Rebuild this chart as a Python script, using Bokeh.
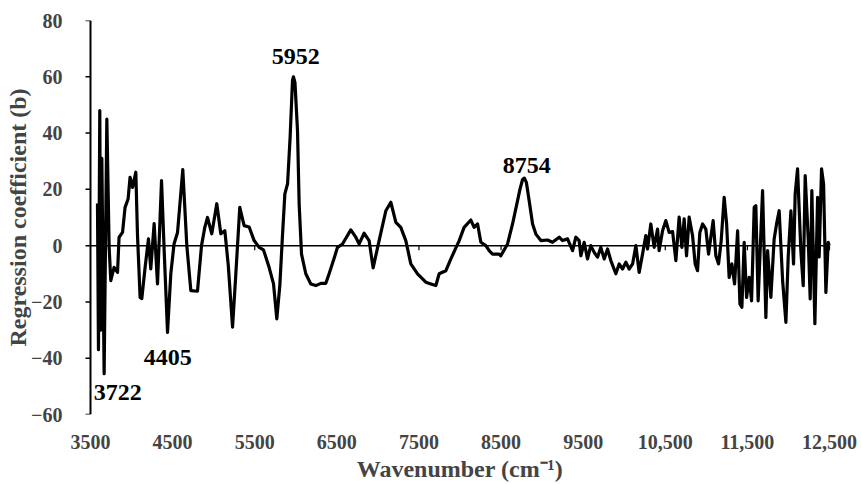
from bokeh.plotting import figure
from bokeh.models import Range1d, FixedTicker
from bokeh.core.properties import value
from bokeh.embed import file_html
from bokeh.resources import INLINE

# ---- data ----
wavenumber = [3585, 3597, 3613, 3625, 3638, 3666, 3699, 3727, 3747, 3787, 3829, 3848, 3890, 3921,
              3958, 3982, 4012, 4052, 4072, 4104, 4125, 4165, 4206, 4234, 4275, 4316, 4365, 4399,
              4438, 4478, 4518, 4560, 4624, 4673, 4722, 4803, 4852, 4892, 4925, 4977, 5038, 5087,
              5136, 5178, 5230, 5270, 5318, 5371, 5432, 5493, 5554, 5607, 5675, 5729, 5769, 5806,
              5839, 5867, 5900, 5931, 5960, 5972, 5990, 6021, 6041, 6070, 6122, 6183, 6244, 6305,
              6366, 6406, 6467, 6508, 6569,
              6670, 6731, 6772, 6832, 6893, 6942, 7015, 7097, 7158, 7219, 7279, 7340, 7401, 7483,
              7584, 7645, 7706, 7746, 7828, 7889, 7990, 8050, 8132, 8172, 8214, 8254, 8315, 8355,
              8396, 8477, 8497, 8579, 8640, 8701, 8730, 8762, 8784, 8808, 8842, 8884, 8924, 8985,
              9066, 9127,
              9208, 9249, 9310, 9371, 9411, 9451, 9472, 9512, 9553, 9593, 9634, 9675, 9715, 9756,
              9797, 9837, 9898, 9938, 9980, 10020, 10060, 10102, 10142, 10182, 10223, 10263, 10284,
              10324, 10365, 10406, 10425, 10467, 10507, 10547, 10589, 10629, 10669, 10702, 10730,
              10759, 10791, 10832, 10864, 10893, 10921, 10954, 10994, 11027, 11055, 11083, 11116,
              11149, 11181, 11217, 11247, 11278, 11311, 11344, 11381, 11409, 11433, 11461, 11490,
              11522, 11551, 11583, 11603, 11631, 11685, 11725, 11746, 11786, 11826, 11859, 11887,
              11929, 11969, 11997, 12030, 12062, 12082, 12111, 12151, 12180, 12204, 12241, 12265,
              12285, 12322, 12355, 12374, 12403, 12428, 12456, 12484, 12496]
coefficient = [15, -37, 48, -30, 31, -45.5, 45, -0.6, -12.4, -7.7, -9.5, 3, 4.7, 13.6,
               16.6, 24.3, 20.7, 26.1, 4, -18.4, -18.8, -7.7, 2.4, -8.3, 7.8, -13.6, 23.1, -3,
               -30.8, -10, 0.7, 4.7, 27, 0, -16, -16.2, 0, 6.5, 10, 4.2, 14.9, 4.2,
               5.3, -7, -29, -10, 13.6, 7.1, 6.6, 1.8, -0.6, -1.5, -7.7, -13.6, -26, -14,
               4.1, 18.4, 22, 38.5, 58.7, 60, 58, 40.9, 14.9, -3, -10, -13.6, -14.2, -13.4,
               -13.4, -10, -4.5, -0.6, 0.6,
               5.6, 3, 0.6, 4.4, 1.8, -7.9, 1.8, 12.4, 15.4, 8.3, 6.5, 1.8, -6.5, -10,
               -13, -13.6, -14.2, -10, -8.9, -4.7, 1.8, 6.5, 9.1, 6.5, 7.7, 1.2, 0, -1.8,
               -3, -3, -3.6, 0.6, 7.7, 16, 20, 23.5, 24, 22.5, 16, 7.7, 4.1, 1.8,
               2, 1.2,
               3, 1.8, 2.4, -1.8, 3, 1.8, -3.6, 1.2, -4.7, 0, -2.4, -4.1, -0.6, -4.7,
               -1.2, -5.3, -10, -6.5, -8.3, -5.9, -8.3, -6.5, 0, -9.5, -3, 3.6, -1.2,
               7.7, -0.6, 5.9, -1.8, 5.3, 8.9, 4.7, 5, -5.3, 10.1, -0.6, 9.5,
               -3.6, 10.1, 3.6, -6.5, -8.9, 4.7, 7.7, 5.9, -3, 3, 8.9, -3.6,
               -6.5, 1.8, 17.2, 7.7, -11.3, -6.5, -13.6, 5.3, -20.7, -21.9, 1.2, -18.4,
               -11.3, -19.6, 13.6, 14.2, -19.6, 19.6, -25.5, -1.8, -18.4, 2.4, 8.3, 12.4,
               -12.4, -27.3, -4, 12.4, -6.5, 18.4, 27.3, -1.8, -14.2, 24.9, 2.4, -18.9,
               19.6, -27.7, 17.2, -4, 27.3, 21.9, -16.6, 1.2, 0]

x_ticks = [3500, 4500, 5500, 6500, 7500, 8500, 9500, 10500, 11500, 12500]
x_tick_labels = ["3500", "4500", "5500", "6500", "7500", "8500", "9500", "10,500", "11,500", "12,500"]
y_ticks = [-60, -40, -20, 0, 20, 40, 60, 80]

peak_labels = ["5952", "3722", "4405", "8754"]
peak_x = [6001, 3833, 4442, 8814]
peak_y = [67.2, -52.3, -39.8, 28.4]

FONT = "Liberation Serif"

X_MIN, X_MAX = x_ticks[0], x_ticks[-1]
Y_MIN, Y_MAX = y_ticks[0], y_ticks[-1]
PX_PER_UNIT = 0.0821          # horizontal scale of the frame (pixels per cm-1)
PAD = 10 / PX_PER_UNIT        # 10 px of room on each side of the axis
TICK = 5 / PX_PER_UNIT        # 5 px long y-axis ticks

p = figure(width=861, height=484, output_backend="svg", toolbar_location=None,
           x_range=Range1d(X_MIN - PAD, X_MAX + PAD), y_range=Range1d(Y_MIN, Y_MAX),
           min_border_left=80, min_border_right=22, min_border_top=20, min_border_bottom=70)
p.outline_line_color = None
p.grid.visible = False
p.background_fill_color = "white"
p.border_fill_color = "white"

# vertical axis line and its outward ticks
p.segment(x0=[X_MIN], y0=[Y_MIN], x1=[X_MIN], y1=[Y_MAX], line_color="black", line_width=2)
p.segment(x0=[X_MIN - TICK] * len(y_ticks), y0=y_ticks, x1=[X_MIN] * len(y_ticks), y1=y_ticks,
          line_color="black", line_width=1.5)

# zero line with its small tick marks
p.segment(x0=[X_MIN], y0=[0], x1=[X_MAX], y1=[0], line_color="black", line_width=1.5)
p.segment(x0=x_ticks[1:], y0=[0] * (len(x_ticks) - 1), x1=x_ticks[1:], y1=[-1.6] * (len(x_ticks) - 1),
          line_color="black", line_width=1.2)

p.line(wavenumber, coefficient, line_color="black", line_width=3.2, line_join="round")

p.text(x=peak_x, y=peak_y, text=peak_labels, text_font=value(FONT), text_font_style="bold",
       text_font_size="24px", text_align="center", text_baseline="middle", text_color="black")

# x axis (labels only)
xa = p.xaxis[0]
xa.ticker = FixedTicker(ticks=x_ticks)
xa.major_label_overrides = {t: l for t, l in zip(x_ticks, x_tick_labels)}
xa.axis_line_color = None
xa.major_tick_line_color = None
xa.minor_tick_line_color = None
xa.major_label_standoff = 14
xa.major_label_text_font = FONT
xa.major_label_text_font_style = "bold"
xa.major_label_text_font_size = "20px"
xa.axis_label = "Wavenumber (cm\u207b\u00b9)"
xa.axis_label_text_font = FONT
xa.axis_label_text_font_style = "bold"
xa.axis_label_text_font_size = "24px"
xa.axis_label_standoff = 4

# y axis (labels only; line and ticks drawn above)
ya = p.yaxis[0]
ya.ticker = FixedTicker(ticks=y_ticks)
ya.axis_line_color = None
ya.major_tick_line_color = None
ya.major_tick_out = 0
ya.major_tick_in = 0
ya.minor_tick_line_color = None
ya.major_label_standoff = 18
ya.major_label_text_font = FONT
ya.major_label_text_font_style = "bold"
ya.major_label_text_font_size = "20px"
ya.axis_label = "Regression coefficient (b)"
ya.axis_label_text_font = FONT
ya.axis_label_text_font_style = "bold"
ya.axis_label_text_font_size = "24px"
ya.axis_label_standoff = -3

open("out.html", "w").write(file_html(p, INLINE))
